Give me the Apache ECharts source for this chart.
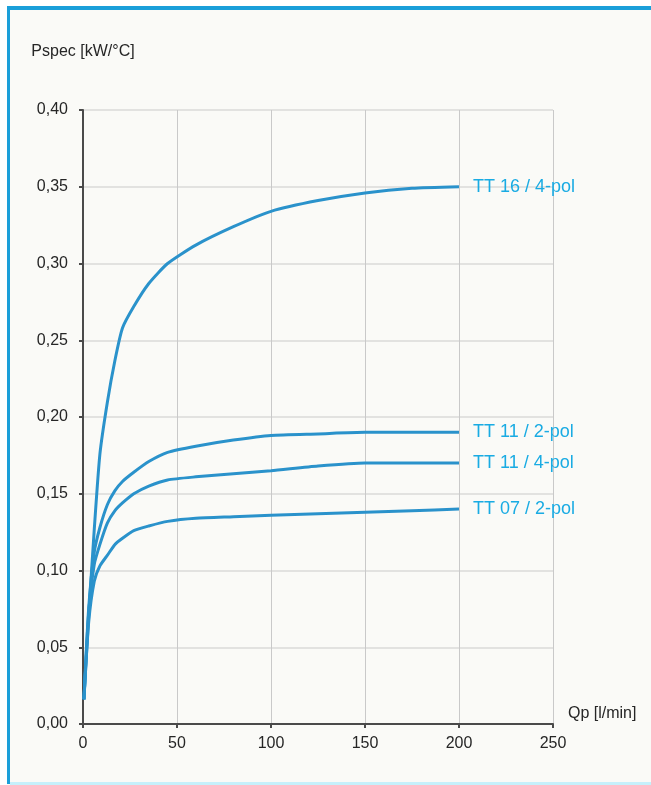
<!DOCTYPE html>
<html>
<head>
<meta charset="utf-8">
<script src="https://cdn.jsdelivr.net/npm/echarts@6/dist/echarts.min.js"></script>
<style>
    html, body { margin: 0; padding: 0; background: #ffffff; }
    #chart { width: 651px; height: 785px; }
</style>
</head>
<body>
<div id="chart"></div>
<script>
    // Qp [l/min] sample points shared by all curves
    const qp = [0.5, 3, 6, 9, 13, 17, 21, 27, 35, 45, 60, 80, 100, 125, 150, 175, 200]

    const tt16_4pol = [0.016, 0.070, 0.127, 0.176, 0.210, 0.237, 0.258, 0.272, 0.287, 0.300, 0.312, 0.324, 0.334, 0.341, 0.346, 0.349, 0.350]
    const tt11_2pol = [0.016, 0.075, 0.112, 0.128, 0.143, 0.152, 0.158, 0.164, 0.171, 0.177, 0.181, 0.185, 0.188, 0.189, 0.190, 0.190, 0.190]
    const tt11_4pol = [0.016, 0.072, 0.104, 0.117, 0.131, 0.139, 0.144, 0.150, 0.155, 0.159, 0.161, 0.163, 0.165, 0.168, 0.170, 0.170, 0.170]
    const tt07_2pol = [0.016, 0.066, 0.093, 0.103, 0.110, 0.117, 0.121, 0.126, 0.129, 0.132, 0.134, 0.135, 0.136, 0.137, 0.138, 0.139, 0.140]

    const seriesNames = ['TT 16 / 4-pol', 'TT 11 / 2-pol', 'TT 11 / 4-pol', 'TT 07 / 2-pol']
    const seriesValues = [tt16_4pol, tt11_2pol, tt11_4pol, tt07_2pol]

    const lineColor = '#2a92cb'
    const labelColor = '#19abe3'
    const textColor = '#262626'
    const fontFamily = 'Liberation Sans, Arial, sans-serif'

    const chart = echarts.init(document.getElementById('chart'))

    const series = seriesNames.map((name, i) => ({
        name,
        type: 'line',
        symbol: 'none',
        smooth: 0.2,
        animation: false,
        lineStyle: { color: lineColor, width: 3 },
        endLabel: {
            show: true,
            formatter: '{a}',
            distance: 14,
            color: labelColor,
            fontSize: 18,
            fontFamily
        },
        data: qp.map((x, j) => [x, seriesValues[i][j]])
    }))

    const option = {
        backgroundColor: '#fafaf7',
        animation: false,
        graphic: [
            { type: 'rect', shape: { x: 0, y: 0, width: 651, height: 6 }, style: { fill: '#ffffff' }, z: -10 },
            { type: 'rect', shape: { x: 0, y: 0, width: 7, height: 785 }, style: { fill: '#ffffff' }, z: -10 },
            { type: 'rect', shape: { x: 7, y: 6, width: 644, height: 4 }, style: { fill: '#1a9fd9' } },
            { type: 'rect', shape: { x: 7, y: 6, width: 3, height: 778 }, style: { fill: '#1a9fd9' } },
            { type: 'rect', shape: { x: 10, y: 782, width: 641, height: 3 }, style: { fill: '#c6f0fb' } }
        ],
        grid: {
            left: 83,
            right: 98,
            top: 110,
            bottom: 61
        },
        xAxis: {
            type: 'value',
            min: 0,
            max: 250,
            interval: 50,
            name: 'Qp [l/min]',
            nameLocation: 'end',
            nameGap: 15,
            nameTextStyle: {
                color: textColor,
                fontSize: 16,
                fontFamily,
                verticalAlign: 'bottom',
                padding: [0, 0, 2, 0]
            },
            axisLine: { show: true, lineStyle: { color: '#4a4a4a', width: 2 } },
            axisTick: { show: true, length: 4, lineStyle: { color: '#4a4a4a', width: 2 } },
            axisLabel: {
                color: textColor,
                fontSize: 16,
                fontFamily,
                margin: 12
            },
            splitLine: { show: true, lineStyle: { color: '#c9c9c9', width: 1 } }
        },
        yAxis: {
            type: 'value',
            min: 0,
            max: 0.4,
            interval: 0.05,
            name: 'Pspec [kW/°C]',
            nameLocation: 'end',
            nameGap: 50,
            nameTextStyle: {
                color: textColor,
                fontSize: 16,
                fontFamily
            },
            axisLine: { show: true, lineStyle: { color: '#4a4a4a', width: 2 } },
            axisTick: { show: true, length: 4, lineStyle: { color: '#4a4a4a', width: 2 } },
            axisLabel: {
                color: textColor,
                fontSize: 16,
                fontFamily,
                margin: 15,
                formatter: v => v.toFixed(2).replace('.', ',')
            },
            splitLine: { show: true, lineStyle: { color: '#e2e2e0', width: 2 } }
        },
        series
    }
    chart.setOption(option)
</script>
</body>
</html>
